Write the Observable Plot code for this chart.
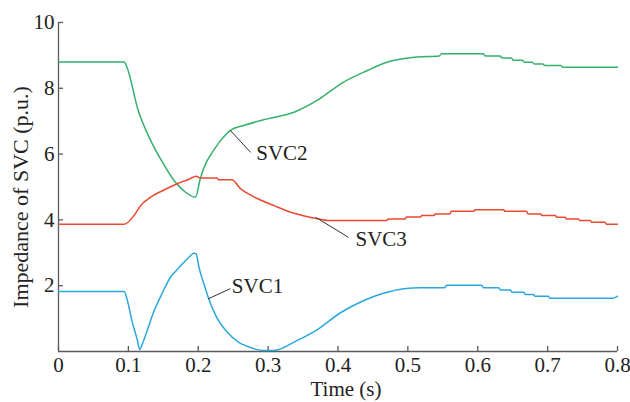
<!DOCTYPE html>
<html>
<head>
<meta charset="utf-8">
<script src="https://cdn.jsdelivr.net/npm/d3@7"></script>
<script src="https://cdn.jsdelivr.net/npm/@observablehq/plot@0.6"></script>
<style>
  html, body { margin: 0; padding: 0; background: #fff; }
  #chart svg { display: block; }
</style>
</head>
<body>
<div id="chart"></div>
<script>
// ---- data ----
const xTicks = [0, 0.1, 0.2, 0.3, 0.4, 0.5, 0.6, 0.7, 0.8];
const xTickLabels = ["0", "0.1", "0.2", "0.3", "0.4", "0.5", "0.6", "0.7", "0.8"];
const yTicks = [2, 4, 6, 8, 10];
const yTickLabels = ["2", "4", "6", "8", "10"];

const svc1Time = [0, 0.094, 0.098, 0.105, 0.113, 0.116, 0.120, 0.127, 0.136, 0.148, 0.160, 0.168, 0.175, 0.186, 0.194, 0.197, 0.201, 0.208, 0.215, 0.226, 0.241, 0.258, 0.270, 0.294, 0.308, 0.341, 0.370, 0.403, 0.437, 0.465, 0.494, 0.518, 0.553, 0.555, 0.606, 0.608, 0.630, 0.632, 0.647, 0.649, 0.666, 0.668, 0.680, 0.682, 0.701, 0.703, 0.794, 0.8];
const svc1Value = [1.82, 1.82, 1.60, 0.94, 0.33, 0.06, 0.23, 0.64, 1.19, 1.75, 2.25, 2.45, 2.61, 2.85, 2.99, 2.97, 2.56, 2.06, 1.60, 1.05, 0.60, 0.28, 0.16, 0.03, 0.03, 0.33, 0.66, 1.17, 1.55, 1.77, 1.91, 1.94, 1.94, 2.01, 2.01, 1.94, 1.94, 1.87, 1.87, 1.80, 1.80, 1.73, 1.73, 1.68, 1.68, 1.62, 1.62, 1.68];

const svc2Time = [0, 0.094, 0.098, 0.114, 0.132, 0.150, 0.167, 0.179, 0.196, 0.203, 0.213, 0.217, 0.232, 0.246, 0.265, 0.299, 0.337, 0.370, 0.408, 0.442, 0.470, 0.513, 0.545, 0.548, 0.608, 0.611, 0.632, 0.635, 0.648, 0.651, 0.664, 0.667, 0.678, 0.681, 0.693, 0.696, 0.719, 0.722, 0.8];
const svc2Value = [8.8, 8.8, 8.64, 7.33, 6.41, 5.71, 5.15, 4.89, 4.69, 5.26, 5.81, 5.95, 6.41, 6.72, 6.87, 7.07, 7.27, 7.63, 8.19, 8.54, 8.79, 8.95, 8.98, 9.05, 9.05, 8.98, 8.98, 8.92, 8.92, 8.85, 8.85, 8.79, 8.79, 8.74, 8.74, 8.69, 8.69, 8.64, 8.64];

const svc3Time = [0, 0.094, 0.110, 0.117, 0.132, 0.151, 0.170, 0.186, 0.197, 0.203, 0.227, 0.229, 0.248, 0.260, 0.279, 0.308, 0.337, 0.365, 0.389, 0.470, 0.472, 0.496, 0.498, 0.518, 0.520, 0.537, 0.539, 0.560, 0.562, 0.594, 0.596, 0.637, 0.639, 0.670, 0.672, 0.690, 0.692, 0.711, 0.713, 0.725, 0.727, 0.744, 0.746, 0.761, 0.763, 0.782, 0.784, 0.8];
const svc3Value = [3.87, 3.87, 4.19, 4.42, 4.69, 4.91, 5.10, 5.23, 5.33, 5.27, 5.27, 5.22, 5.22, 4.96, 4.71, 4.44, 4.20, 4.06, 3.98, 3.98, 4.03, 4.03, 4.09, 4.09, 4.13, 4.13, 4.18, 4.18, 4.26, 4.26, 4.31, 4.31, 4.26, 4.26, 4.18, 4.18, 4.13, 4.13, 4.08, 4.08, 4.03, 4.03, 3.98, 3.98, 3.93, 3.93, 3.87, 3.87];

const seriesNames = ["SVC1", "SVC2", "SVC3"];
const seriesColors = ["#2aa8de", "#35b06a", "#ea4a32"];

// annotation: anchor on curve (t, v), end of leader (lt, lv), label position (tt, tv)
const labelNames = ["SVC1", "SVC2", "SVC3"];
const labelAnchorT = [0.214, 0.246, 0.368];
const labelAnchorV = [1.60, 6.72, 4.08];
const labelLeaderT = [0.246, 0.275, 0.415];
const labelLeaderV = [1.91, 6.05, 3.47];
const labelTextT = [0.248, 0.283, 0.425];
const labelTextV = [1.98, 6.02, 3.40];

// ---- build tables ----
const toRows = (name, T, V) => T.map((t, i) => ({series: name, t, v: V[i]}));
const rows = [
  ...toRows("SVC1", svc1Time, svc1Value),
  ...toRows("SVC2", svc2Time, svc2Value),
  ...toRows("SVC3", svc3Time, svc3Value)
];
const notes = labelNames.map((label, i) => ({
  label, t: labelAnchorT[i], v: labelAnchorV[i],
  lt: labelLeaderT[i], lv: labelLeaderV[i],
  tt: labelTextT[i], tv: labelTextV[i]
}));

const axisColor = "#5a5a5a";
const font = "'Liberation Serif', 'Times New Roman', serif";

const chart = Plot.plot({
  width: 630,
  height: 402,
  marginLeft: 58,
  marginRight: 13,
  marginTop: 22,
  marginBottom: 51,
  style: {fontFamily: font, fontSize: "21px", color: "#222", background: "#fff"},
  x: {domain: [0, 0.8]},
  y: {domain: [0, 10]},
  color: {domain: seriesNames, range: seriesColors},
  marks: [
    Plot.ruleX([0], {stroke: axisColor, strokeWidth: 1.3}),
    Plot.ruleY([0], {stroke: axisColor, strokeWidth: 1.3}),
    Plot.axisX({ticks: xTicks, tickFormat: d => xTickLabels[xTicks.indexOf(d)], tickSize: -5, tickPadding: 11, stroke: axisColor, strokeWidth: 1.3, fill: "#222", fontSize: 21, label: null}),
    Plot.axisY({ticks: yTicks, tickFormat: d => yTickLabels[yTicks.indexOf(d)], tickSize: -5, tickPadding: 9, stroke: axisColor, strokeWidth: 1.3, fill: "#222", fontSize: 21, label: null}),
    Plot.line(rows, {x: "t", y: "v", z: "series", stroke: "series", strokeWidth: 1.5, curve: "monotone-x"}),
    Plot.link(notes, {x1: "t", y1: "v", x2: "lt", y2: "lv", stroke: "#333", strokeWidth: 1}),
    Plot.text(notes, {x: "tt", y: "tv", text: "label", textAnchor: "start", fontSize: 21, fill: "#222"}),
    Plot.text(["Time (s)"], {frameAnchor: "bottom", textAnchor: "middle", dx: 8, dy: 38, fontSize: 21, fill: "#222", lineAnchor: "middle"}),
    Plot.text(["Impedance of SVC (p.u.)"], {frameAnchor: "left", textAnchor: "middle", rotate: -90, dx: -38, dy: 10, fontSize: 22, fill: "#222", lineAnchor: "middle"})
  ]
});
document.getElementById("chart").appendChild(chart);
</script>
</body>
</html>
